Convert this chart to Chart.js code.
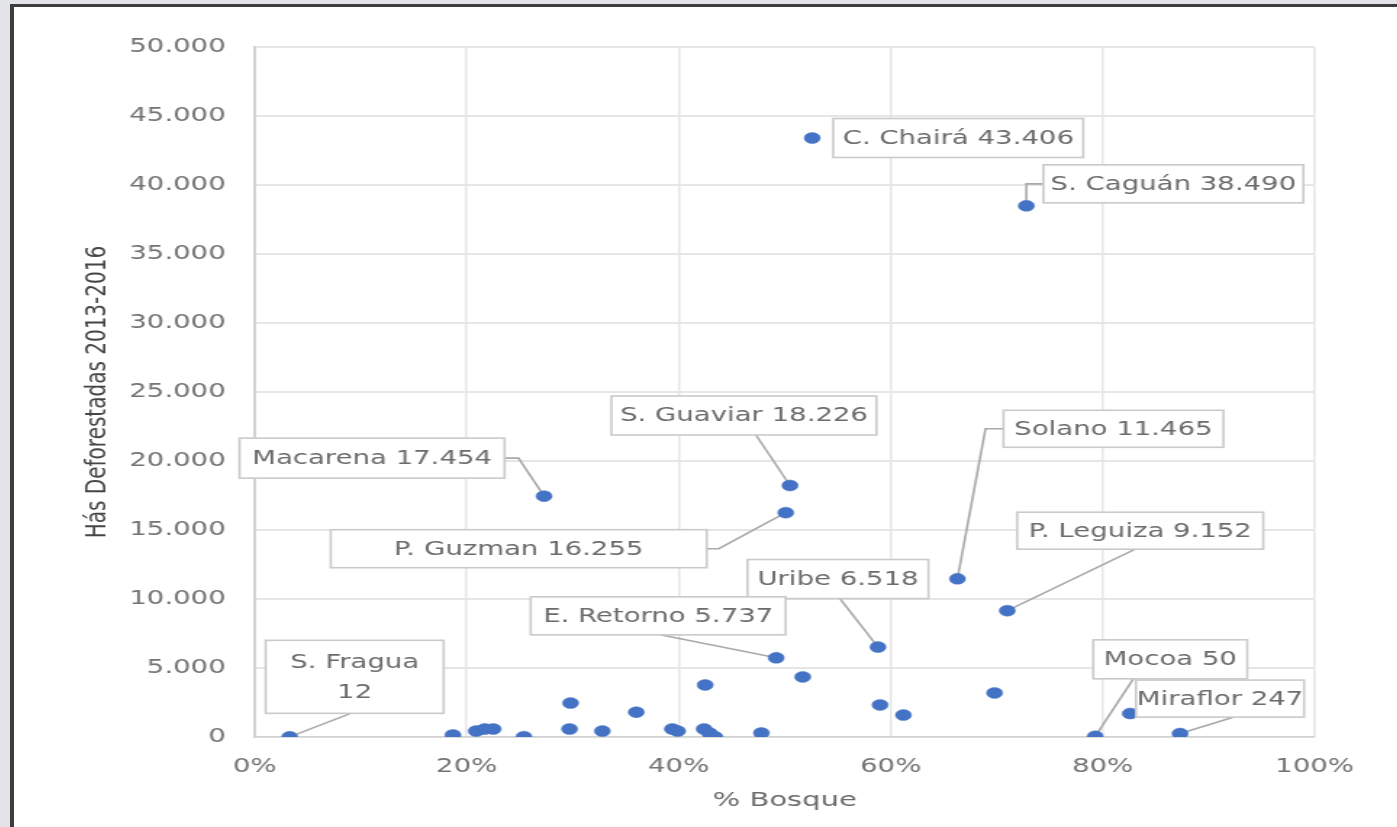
<!DOCTYPE html>
<html>
<head>
<meta charset="utf-8">
<script src="https://cdn.jsdelivr.net/npm/chart.js@4.4.1/dist/chart.umd.min.js"></script>
<style>
body{margin:0;background:#e3e4e8;width:1397px;height:827px;overflow:hidden;}
#frame{position:absolute;left:10px;top:4px;width:1383px;height:820px;background:#fff;border-left:4px solid #3d3d3d;border-top:3px solid #3d3d3d;}
#wrap{position:absolute;left:0;top:0;width:954px;height:820px;transform:scaleX(1.45);transform-origin:0 0;}
</style>
</head>
<body>
<div id="frame">
  <div id="wrap"><canvas id="c"></canvas></div>
</div>
<script>
// the original picture is stretched sideways, so the chart is drawn narrow and scaled
var STRETCH = 1.45;

// municipios (null = punto sin etiqueta)
var names = ["C. Chairá", "S. Caguán", "Macarena", "S. Guaviar", "P. Guzman", "Solano",
             "P. Leguiza", "Uribe", "E. Retorno", "S. Fragua", "Mocoa", "Miraflor",
             null, null, null, null, null, null, null, null, null, null, null,
             null, null, null, null, null, null, null, null, null, null];
// % bosque
var bosque = [52.6, 72.8, 27.3, 50.5, 50.1, 66.3,
              71.0, 58.8, 49.2, 3.3, 79.3, 87.3,
              82.6, 18.7, 20.9, 21.7, 22.5, 25.4, 29.8, 29.7, 32.8, 36.0, 39.4,
              39.9, 42.5, 42.4, 42.9, 43.4, 47.8, 51.7, 59.0, 61.2, 69.8];
// hectareas deforestadas 2013-2016
var hectareas = [43406, 38490, 17454, 18226, 16255, 11465,
                 9152, 6518, 5737, 12, 50, 247,
                 1700, 150, 430, 580, 580, 20, 2460, 580, 430, 1800, 580,
                 430, 3770, 580, 290, 20, 290, 4350, 2320, 1590, 3190];

var xTicks = [0, 20, 40, 60, 80, 100];
var yTicks = [0, 5000, 10000, 15000, 20000, 25000, 30000, 35000, 40000, 45000, 50000];

// callout boxes: offset of box centre from the point (screen px), box size, leader
var callouts = {
    "C. Chairá":  {dx: 146,  dy: 0,    w: 250, h: 39, lead: "none"},
    "S. Caguán":  {dx: 147,  dy: -22,  w: 260, h: 38, lead: "left", stub: 17},
    "Macarena":   {dx: -172, dy: -38,  w: 265, h: 40, lead: "right", stub: 14},
    "S. Guaviar": {dx: -46,  dy: -70,  w: 265, h: 39, lead: "bottom", ax: 12},
    "P. Guzman":  {dx: -267, dy: 36,   w: 376, h: 38, lead: "right", stub: 12},
    "Solano":     {dx: 156,  dy: -150, w: 220, h: 37, lead: "left", stub: 18},
    "P. Leguiza": {dx: 133,  dy: -80,  w: 246, h: 37, lead: "bottom", ax: -5},
    "Uribe":      {dx: -40,  dy: -68,  w: 181, h: 39, lead: "bottom", ax: 2},
    "E. Retorno": {dx: -118, dy: -42,  w: 255, h: 38, lead: "bottom", ax: 2},
    "S. Fragua":  {dx: 65,   dy: -60,  w: 178, h: 73, lead: "bottom", ax: -4, wrap: true},
    "Mocoa":      {dx: 75,   dy: -77,  w: 154, h: 39, lead: "bottom", ax: -37},
    "Miraflor":   {dx: 40,   dy: -35,  w: 168, h: 37, lead: "bottom", ax: 14}
};

function fmt(v){
    return String(v).replace(/\B(?=(\d{3})+(?!\d))/g, '.');
}

var points = [];
for(var i = 0; i < bosque.length; i++){
    points.push({x: bosque[i], y: hectareas[i]});
}

function getBoxes(chart){
    var meta = chart.getDatasetMeta(0);
    var boxes = [];
    for(var i = 0; i < names.length; i++){
        if(!names[i]) continue;
        var c = callouts[names[i]];
        var p = meta.data[i];
        var w = c.w / STRETCH;
        var cx = p.x + c.dx / STRETCH, cy = p.y + c.dy;
        var lines = c.wrap ? [names[i], fmt(hectareas[i])] : [names[i] + ' ' + fmt(hectareas[i])];
        boxes.push({p: p, c: c, x: cx - w/2, y: cy - c.h/2, w: w, h: c.h, lines: lines});
    }
    return boxes;
}

var calloutPlugin = {
    id: 'callouts',
    beforeDatasetsDraw: function(chart){
        var ctx = chart.ctx;
        ctx.save();
        ctx.strokeStyle = '#a9a9a9';
        ctx.lineWidth = 1.6;
        getBoxes(chart).forEach(function(b){
            var c = b.c;
            if(c.lead === 'none') return;
            ctx.beginPath();
            if(c.lead === 'bottom'){
                ctx.moveTo(b.x + b.w/2 + (c.ax || 0)/STRETCH, b.y + b.h);
            }else if(c.lead === 'left'){
                ctx.moveTo(b.x, b.y + b.h/2);
                ctx.lineTo(b.x - c.stub/STRETCH, b.y + b.h/2);
            }else{
                ctx.moveTo(b.x + b.w, b.y + b.h/2);
                ctx.lineTo(b.x + b.w + c.stub/STRETCH, b.y + b.h/2);
            }
            ctx.lineTo(b.p.x, b.p.y);
            ctx.stroke();
        });
        ctx.restore();
    },
    afterDatasetsDraw: function(chart){
        var ctx = chart.ctx;
        ctx.save();
        ctx.font = '19px "DejaVu Sans"';
        ctx.textAlign = 'center';
        ctx.textBaseline = 'middle';
        getBoxes(chart).forEach(function(b){
            ctx.fillStyle = '#ffffff';
            ctx.fillRect(b.x, b.y, b.w, b.h);
            ctx.strokeStyle = '#cacaca';
            ctx.lineWidth = 1.6;
            ctx.strokeRect(b.x, b.y, b.w, b.h);
            ctx.fillStyle = '#6b6b6b';
            var lh = 30;
            var y0 = b.y + b.h/2 - (b.lines.length - 1) * lh/2;
            for(var k = 0; k < b.lines.length; k++){
                ctx.fillText(b.lines[k], b.x + b.w/2, y0 + k*lh + 1);
            }
        });
        ctx.restore();
    }
};

var tickFont = {family: '"DejaVu Sans"', size: 19};
var titleFont = {family: '"DejaVu Sans"', size: 20};

new Chart(document.getElementById('c'), {
    type: 'scatter',
    data: {
        datasets: [{
            data: points,
            backgroundColor: '#4472c4',
            borderColor: '#4472c4',
            borderWidth: 0.5,
            pointRadius: 5.5
        }]
    },
    options: {
        responsive: true,
        maintainAspectRatio: false,
        animation: false,
        layout: {padding: {left: 0, right: 57, top: 40, bottom: 0}},
        plugins: {legend: {display: false}, tooltip: {enabled: false}},
        scales: {
            x: {
                type: 'linear',
                min: xTicks[0],
                max: xTicks[xTicks.length - 1],
                afterBuildTicks: function(s){ s.ticks = xTicks.map(function(v){ return {value: v}; }); },
                afterFit: function(s){ s.height = 90; },
                ticks: {
                    color: '#737373',
                    font: tickFont,
                    padding: 19,
                    callback: function(v){ return v + '%'; }
                },
                grid: {color: '#e6e6e6', lineWidth: 1.5, drawTicks: false},
                border: {color: '#d2d2d2', width: 1.5},
                title: {display: true, text: '% Bosque', color: '#6b6b6b', font: titleFont, padding: {top: 0, bottom: 14}}
            },
            y: {
                type: 'linear',
                min: yTicks[0],
                max: yTicks[yTicks.length - 1],
                afterBuildTicks: function(s){ s.ticks = yTicks.map(function(v){ return {value: v}; }); },
                afterFit: function(s){ s.width = 166; },
                ticks: {
                    color: '#737373',
                    font: tickFont,
                    padding: 20,
                    callback: function(v){ return fmt(v); }
                },
                grid: {color: '#e6e6e6', lineWidth: 2, drawTicks: false},
                border: {color: '#d2d2d2', width: 2},
                title: {display: true, text: 'Hás Deforestadas 2013-2016', color: '#454545', font: titleFont, padding: {top: 46, bottom: 0}}
            }
        }
    },
    plugins: [calloutPlugin]
});
</script>
</body>
</html>
